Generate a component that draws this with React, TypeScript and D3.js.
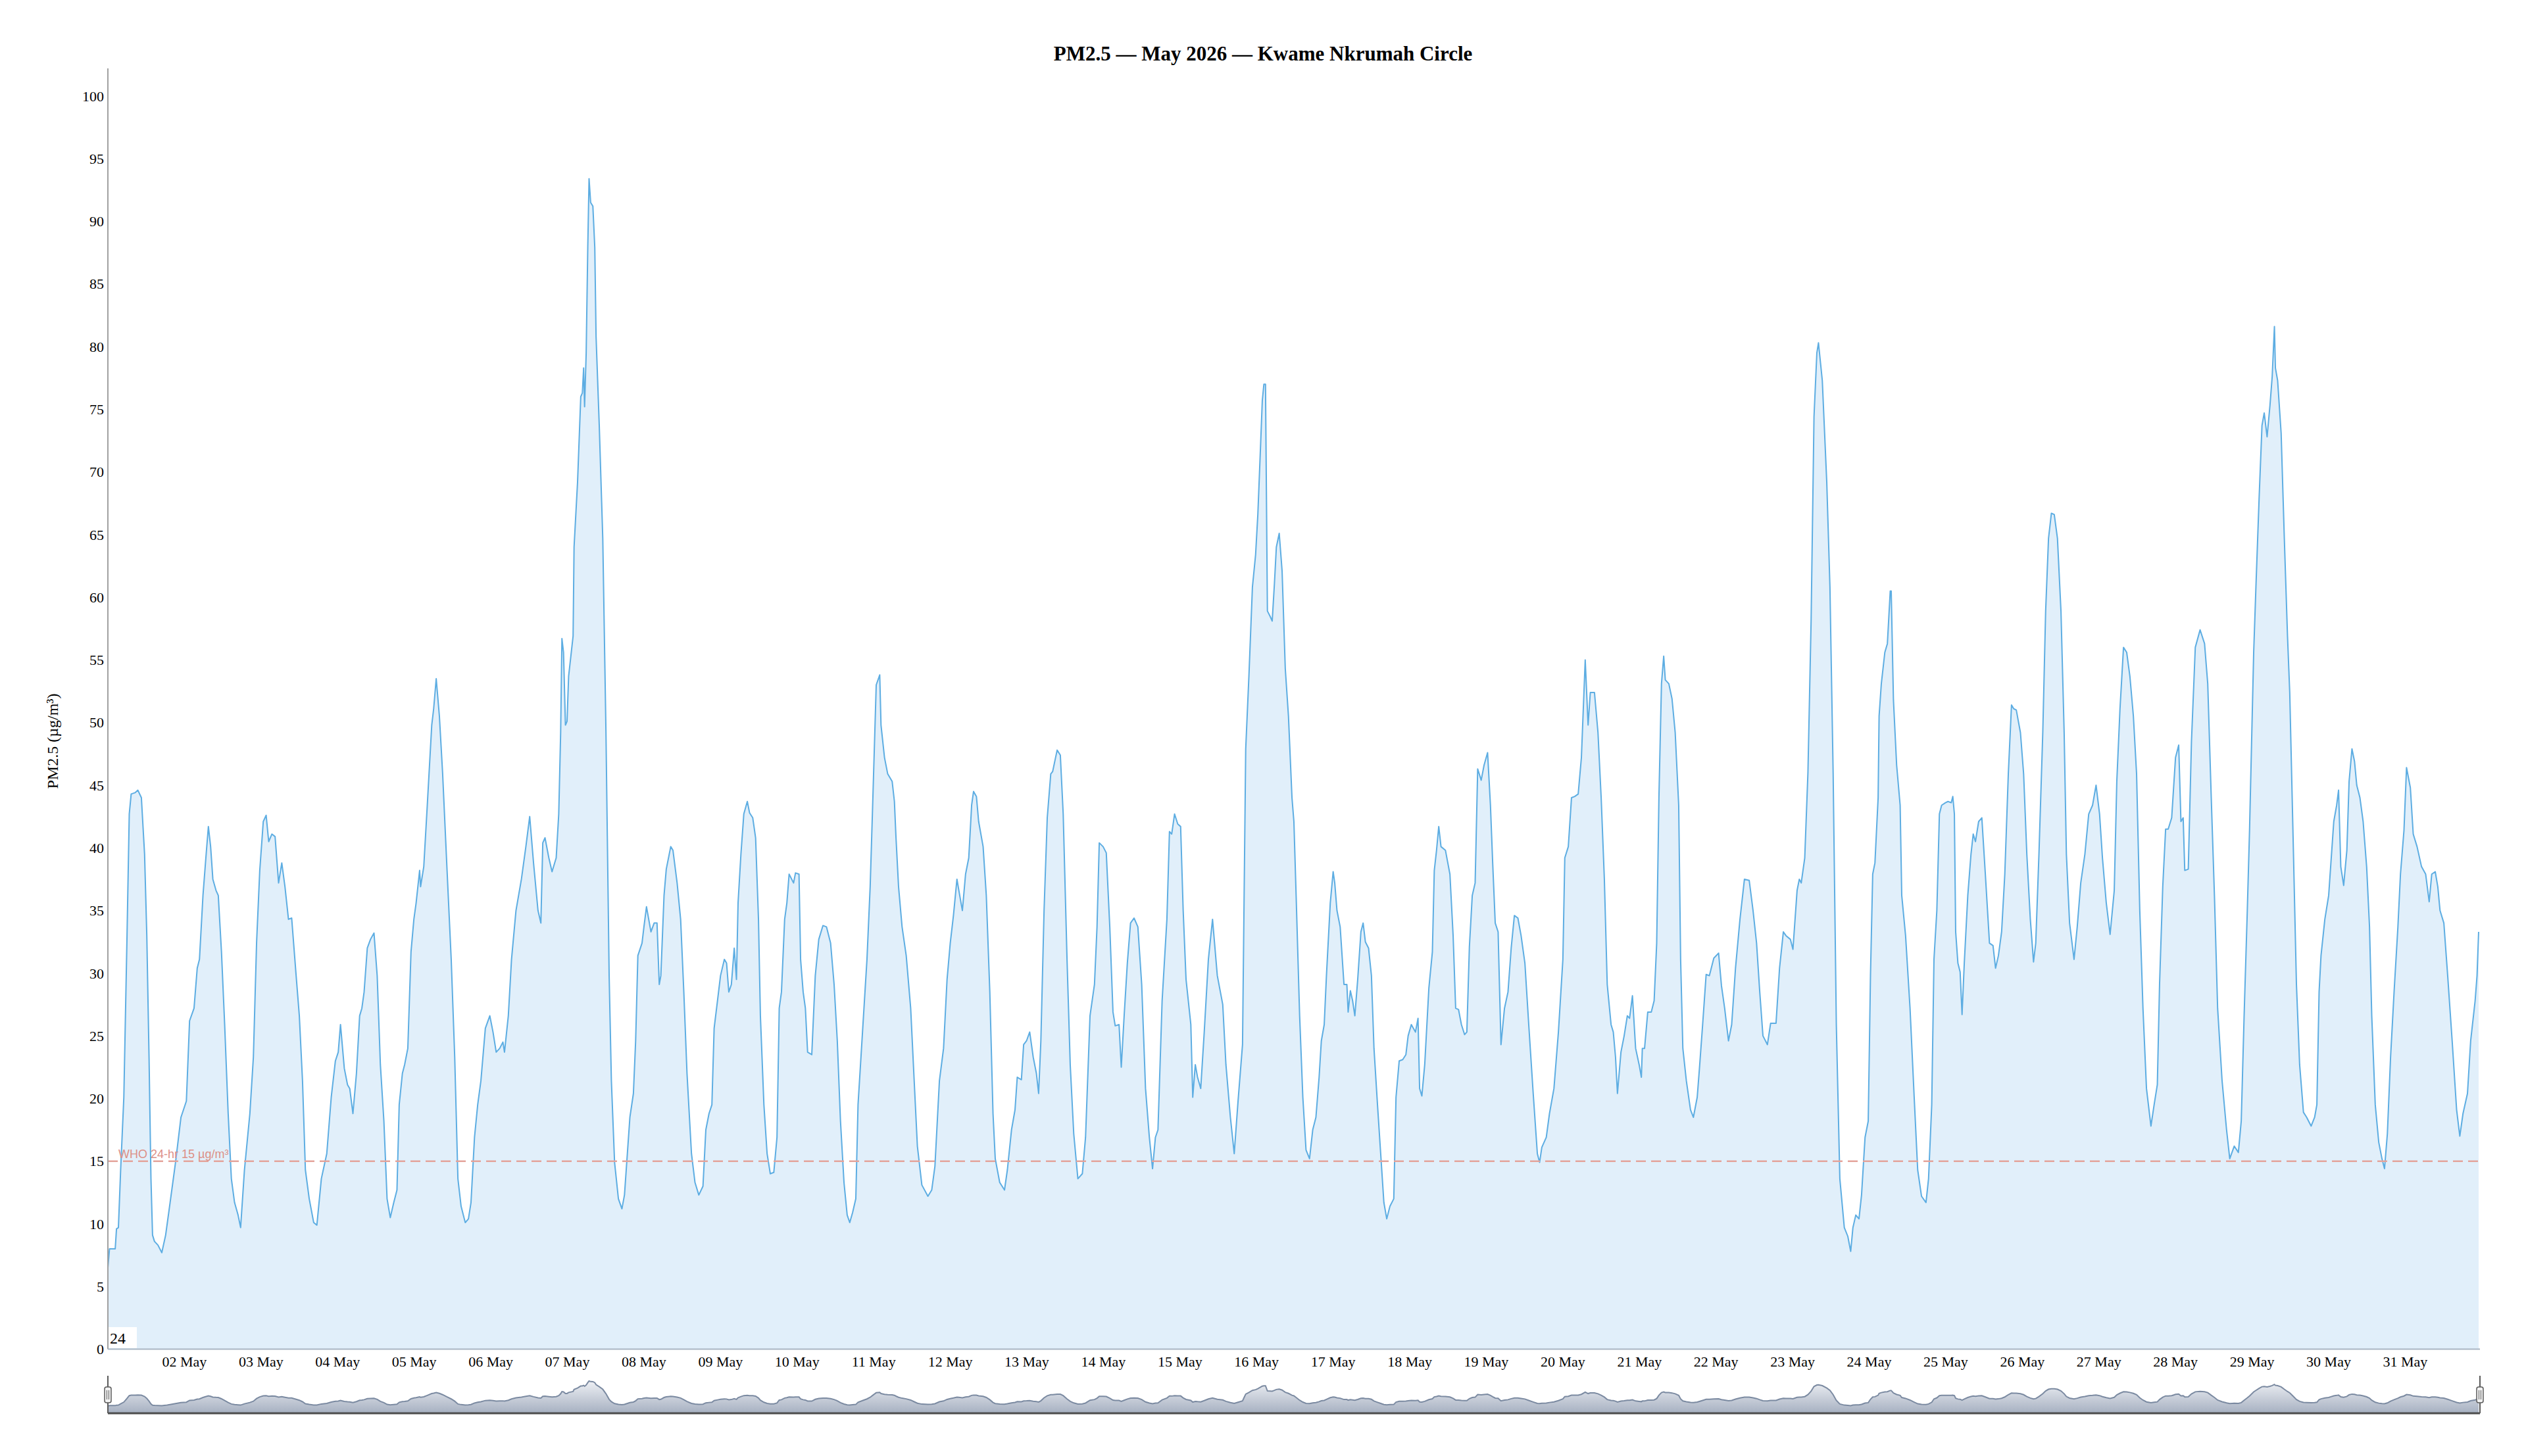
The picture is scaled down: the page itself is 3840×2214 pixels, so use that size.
import React from 'react';
import * as d3 from 'd3';

// ---- Data: hour offsets from 2026-05-01 00:00 and PM2.5 readings (µg/m³) ----
const HOURS: number[] = [
  0, 0.5, 2.3, 2.7, 3.3, 4, 5, 6, 6.7, 7.3, 8.5, 9.4, 10.5, 11.5, 12.2, 12.9, 13.5, 14, 14.6, 15.7, 16.9, 18.1, 19.5, 21.2, 22.9,
  24.6, 25.6, 27, 28, 28.7, 29.8, 30.8, 31.5, 32.2, 32.9, 33.9, 34.6, 35.6, 36.6, 37.7, 38.7, 39.7, 40.8, 41.6, 42.8, 44.5, 45.6, 46.6, 47.6,
  48.7, 49.6, 50.4, 51.4, 52.4, 53.5, 54.5, 55.5, 56.6, 57.6, 59, 60, 61, 61.9, 63.1, 64.5, 65.5, 66.9, 68.6, 70, 71.3,
  72.2, 72.9, 74.1, 75.1, 75.8, 76.8, 77.9, 78.9, 79.6, 80.3, 81.3, 82.3, 83.4, 84.4, 85.4, 86.5, 87.5, 88.5, 89.6, 90.6, 91.3, 92.3, 93, 94, 95, 95.9,
  96.6, 97.7, 98, 99, 100.1, 101.5, 102.1, 102.9, 103.9, 104.9, 106.3, 107.6, 108.7, 109.7, 110.7, 112, 113, 113.8, 114.9, 115.9, 116.9, 118.3, 119.7,
  120.7, 121.7, 122.8, 123.8, 124.3, 125.5, 126.5, 127.9, 129.6, 131, 132.2, 133.4, 134.8, 135.7, 136.3, 137, 138.2, 139.2, 140.5, 141.3, 141.9, 142.3, 142.8, 143.4, 143.9,
  144.4, 145.8, 146.1, 147.2, 148.2, 148.7, 149.1, 149.4, 149.9, 150.4, 150.8, 151.3, 152, 152.6, 153, 154, 155.1, 156.1, 157.1, 157.8, 158.8, 160, 161.1, 161.9, 163.6, 164.7, 165.4, 166.1, 167.4,
  168, 168.8, 170.2, 171.2, 172.1, 172.8, 173.3, 174.3, 175, 176.4, 177.1, 178.4, 179.5, 180.5, 181.5, 182.9, 184, 185.2, 186.5, 187.4, 188.4, 189.3, 190, 191.1,
  192, 193.2, 193.9, 194.6, 195.4, 196.3, 197, 197.5, 198.4, 199.3, 200.4, 201.1, 202.1, 203, 203.9, 204.5, 205.6, 206.6, 207.6, 208.7, 209.7, 210.4, 211.1, 212.1, 212.8, 213.5, 214.9, 215.5,
  216.6, 217.1, 217.9, 218.6, 219.3, 220.6, 221.7, 222.8, 224.1, 225.2, 226.5, 227.6, 228.6, 229.6, 230.7, 231.7, 232.5, 233.4, 234.4, 235.1, 236.5, 237.9, 238.9, 239.6,
  240.8, 241.9, 242.3, 243.4, 244.4, 245.8, 246.5, 247, 247.8, 248.9, 250.2, 251.6, 252.7, 253.7, 255.1, 257, 258.2, 259.2, 260.6, 261.9, 263,
  264, 265, 266.1, 266.7, 267.8, 268.8, 269.8, 270.7, 271.3, 272.2, 272.9, 274.3, 275.3, 276.4, 277.4, 278.1, 279.5, 281, 281.9, 283.2, 284.3, 285, 286.3, 287, 287.9,
  288.9, 290, 291, 291.7, 292.4, 293.4, 294.4, 295.5, 296.1, 297.5, 298.5, 299.4, 300.6, 301.6, 302.7, 304, 305.4, 306.4, 307.8, 309.2, 310, 310.7, 311.9,
  312.9, 314, 315, 315.7, 316.9, 317.6, 318.5, 319.5, 320.5, 321.6, 322.8, 324, 325.2, 326.4, 327.4, 328.3, 329.1, 330.4, 331.9, 332.7, 333.4, 334.3, 335.3,
  336.2, 337, 337.9, 339.4, 340, 340.8, 341.5, 342.5, 343.6, 344.9, 346.2, 347.7, 349.4, 350.4, 351.8, 353, 354.2, 355.6, 356.1, 356.6, 357.6, 358.7, 359.7,
  360.4, 361.3, 361.8, 362.3, 362.8, 363.4, 364.2, 364.9, 365.6, 366.2, 367.1, 368, 369, 370, 371.1, 371.7, 372.4, 373.5, 374.5, 375.5, 376.6, 377.6, 378.6, 379.6, 380.3, 381.2, 381.9, 383.1,
  384, 384.5, 385.2, 386.2, 387.4, 388.3, 388.7, 389.4, 390.1, 390.8, 391.7, 392.7, 393.4, 394.1, 395.1, 396, 396.8, 397.9, 398.9, 399.9, 400.8, 401.8, 403, 403.7, 404.7, 405.8, 406.8, 407.5,
  408.5, 409.8, 410.6, 411.1, 411.8, 412.7, 414, 415.1, 415.7, 416.4, 417.1, 417.8, 419.2, 420.6, 421.6, 422.4, 423.3, 424.2, 425.2, 425.9, 426.7, 427.6, 428.5, 429.3, 430.4, 431.3,
  432.4, 433.3, 434, 434.8, 435.7, 436.6, 437.7, 438.8, 439.8, 440.8, 441.9, 442.9, 444.1, 445.3, 446.7, 448, 448.7, 449.4, 450.8, 451.8, 453.2, 454.6,
  456, 456.6, 457.7, 458.7, 459.7, 460.8, 461.8, 463, 463.9, 464.6, 465.9, 467, 468, 469, 469.9, 471.1, 471.8, 472.5, 473.1, 474.2, 475.2, 476.2, 476.9, 477.8, 478.8, 479.9,
  480.6, 480.9, 481.6, 482.6, 483.7, 484.6, 485.4, 486.1, 486.9, 487.6, 488.1, 489.2, 490.2, 491.2, 492.3, 492.9, 493.6, 494.7, 496, 496.9, 498.1, 498.8, 499.8, 500.9, 501.9, 503.3,
  504.8, 505.7, 506.7, 507.9, 508.9, 510.1, 511.5, 512.9, 514.4, 515.6, 516.7, 517.7, 518.7, 520.1, 521.1, 522.8, 523.9, 525.1, 525.9, 527.3,
  528.1, 529.4, 530.1, 530.7, 531.8, 532.8, 533.8, 534.7, 535.6, 536.1, 537.3, 538.7, 539.7, 540.7, 541.7, 542.8, 544.2, 545.3, 546.2, 546.9, 547.8, 548.8, 549.6, 550.7, 551.7,
  552.4, 553.1, 553.8, 554.8, 555.1, 555.8, 556.9, 557.7, 558.6, 558.9, 559.6, 560.6, 561.7, 562.2, 563.4, 564.8, 566.1, 567.2, 568.4, 569.8, 570.6, 571.6, 572.3, 573.2, 574, 574.7, 575.9,
  576.7, 577.7, 578.2, 578.7, 579.1, 579.8, 580.5, 581.1, 581.8, 582.9, 583.9, 584.6, 585.3, 586.3, 587.3, 588.4, 589.7, 590.8, 591.6, 592.5, 593.5, 594.5, 595.6, 596.6, 597.3, 598.1, 599.4,
  600.4, 601.4, 602.5, 603.5, 604.2, 605.2, 606.4, 607.3, 608.2, 609.1, 610, 611, 612.1, 613.1, 613.8, 614.8, 616.2, 617.2, 618.3, 619.6, 620.8, 622, 623.1,
  624.2, 625.1, 626.3, 627.5, 628.8, 629.6, 630.6, 631.7, 632.7, 633.7, 634.8, 635.8, 636.8, 637.8, 638.9, 640.3, 641.3, 642.3, 643, 644, 644.9, 645.7, 646.8,
  648, 649, 649.7, 650.4, 650.9, 652, 653, 654.2, 655.7, 657.1, 658.1, 659.2, 660.2, 661.2, 662.6, 664, 665, 666.4, 667.7, 668.6, 669.5, 670.5, 671.2,
  672.5, 673.2, 674.2, 675.1, 675.8, 676.7, 677.6, 678.3, 679, 679.3, 680, 681.1, 682.1, 683.1, 683.8, 684.8, 685.9, 686.9, 688.1, 689.1, 690.5, 691.6, 692.3, 693, 693.6, 694.8,
  696, 696.7, 697.6, 698.5, 699.1, 699.8, 700.7, 701.7, 702.4, 703.3, 704.1, 704.8, 705.8, 706.8, 707.9, 708.8, 709.5, 710.6, 711.7, 712.7, 713.5, 714.4, 715.4, 716.5, 717.7, 718.5, 719.6,
  720.4, 721.6, 722.5, 723.7, 725.1, 726.4, 727.5, 728.3, 729.4, 730.2, 730.9, 732.1, 733.3, 734.7, 736.1, 737.1, 738.1, 739.5, 740.5, 741.9, 742.5, 743,
];

const PM25: number[] = [
  6.5, 8, 8, 9.6, 9.7, 14.3, 20.1, 33, 42.7, 44.3, 44.4, 44.6, 44, 39.5, 33, 23.3, 13.6, 9.1, 8.6, 8.3, 7.7, 9.1, 11.7, 14.9, 18.5,
  19.8, 26.2, 27.2, 30.4, 31.1, 36.2, 39.5, 41.7, 40.1, 37.5, 36.6, 36.2, 31.7, 25.9, 18.8, 13.6, 11.7, 10.7, 9.7, 14.3, 18.8, 23.3, 32.4, 38.2,
  42.1, 42.6, 40.5, 41.1, 40.9, 37.2, 38.8, 36.9, 34.3, 34.4, 29.8, 26.6, 21.4, 14.3, 12, 10.1, 9.9, 13.6, 15.6, 20.1, 23,
  23.7, 25.9, 22.4, 21.1, 20.8, 18.8, 22, 26.6, 27.2, 28.5, 32, 32.7, 33.2, 29.8, 22.7, 18.2, 12, 10.5, 11.7, 12.7, 19.5, 22, 22.7, 24, 31.7, 34.3,
  35.6, 38.2, 36.9, 38.5, 43.4, 49.8, 51.1, 53.5, 50.5, 46, 38.2, 31.1, 23.3, 13.6, 11.4, 10.1, 10.4, 11.7, 16.9, 19.5, 21.4, 25.6, 26.6,
  25.3, 23.7, 24, 24.5, 23.7, 26.6, 31.1, 35, 37.5, 40.1, 42.5, 38.8, 35, 34, 40.4, 40.8, 39.2, 38.1, 39.2, 42.7, 49.2, 56.7, 55.6, 49.8, 50.1,
  53.7, 56.9, 64, 69.2, 76, 76.3, 78.3, 75.2, 79.5, 87.9, 93.4, 91.5, 91.2, 87.9, 80.8, 73.7, 64.7, 49.2, 29.8, 21.4, 14.9, 12, 11.2, 12.3, 18.5, 20.4, 24.6, 31.4, 32.4,
  33.7, 35.3, 33.3, 34, 34, 29.1, 29.8, 36.2, 38.3, 40.1, 39.8, 37.2, 34.3, 28.5, 22, 15.6, 13.3, 12.3, 13, 17.5, 18.8, 19.5, 25.6, 27.9,
  29.8, 31.1, 30.8, 28.5, 29.1, 32, 29.5, 35.6, 39.5, 42.7, 43.7, 42.8, 42.4, 40.8, 34.3, 26.6, 19.5, 15.6, 14, 14.1, 16.9, 27.2, 28.5, 34.3, 35.6, 37.9, 37.2, 38,
  37.9, 31.1, 28.5, 27.2, 23.7, 23.5, 29.8, 32.7, 33.8, 33.7, 32.4, 29.1, 24.6, 18.2, 13.3, 10.7, 10.1, 10.9, 12, 19.5, 25.3, 31.1, 36.9, 42.7,
  53, 53.8, 49.8, 47.2, 45.9, 45.3, 43.7, 40.8, 36.9, 33.7, 31.4, 27.2, 21.4, 16.2, 13.1, 12.2, 12.7, 14.6, 21.4, 24, 29.5,
  32.4, 34.6, 37.5, 36.6, 35, 37.9, 39.2, 43.4, 44.5, 44.1, 42.1, 40.1, 36.2, 28.5, 18.8, 15.2, 13.3, 12.7, 14.3, 17.5, 19.1, 21.7, 21.5, 24.3, 24.6,
  25.3, 23.3, 22, 20.4, 24.6, 35, 42.4, 45.9, 46.1, 47.8, 47.4, 42.7, 31.1, 22.7, 17.2, 13.6, 14, 16.9, 26.6, 29.1, 33.7, 40.4, 40.1,
  39.6, 33.7, 26.9, 25.8, 25.9, 22.5, 26.6, 30.8, 34, 34.4, 33.7, 29.1, 20.8, 16.9, 14.4, 16.9, 17.5, 27.8, 34.3, 41.3, 41.1, 42.7, 41.9,
  41.7, 35, 29.5, 25.9, 20.1, 22.7, 21.7, 20.8, 25.3, 31.1, 34.3, 29.8, 27.5, 22.7, 18.5, 15.6, 19.8, 24.3, 36.2, 47.9, 53.7, 60.8, 63.4,
  66.6, 72.4, 75.7, 77, 77, 58.9, 58.5, 58.1, 61.1, 64, 65.1, 62.1, 54.3, 50.5, 44, 42.1, 36.2, 26.6, 20.1, 15.9, 15.2, 17.5, 18.5, 21.7, 24.6, 25.9, 29.8, 35.6,
  38.1, 37.2, 35, 33.7, 29.1, 29.1, 26.9, 28.6, 27.8, 26.6, 29.5, 33.3, 34, 32.5, 32, 29.8, 24, 19.5, 15.6, 11.7, 10.4, 11.4, 12, 20.1, 23, 23.1, 23.5, 25,
  25.9, 25.3, 26.4, 20.8, 20.2, 22.7, 28.8, 31.7, 38.2, 39.8, 41.7, 40.1, 39.8, 37.9, 33, 27.2, 27.1, 25.9, 25.1, 25.3, 32.1, 36.2, 37.2, 46.3, 45.4, 46.6,
  47.6, 43.4, 38.8, 34, 33.3, 24.3, 27.2, 28.5, 32, 34.6, 34.4, 33, 30.8, 25.9, 20.4, 15.6, 14.9, 16.1, 16.9, 18.8, 20.8, 25.3,
  31.1, 39.2, 40.1, 44, 44.1, 44.3, 47.2, 55, 49.8, 52.4, 52.4, 49.2, 44, 37.5, 29.1, 25.9, 25.3, 23.3, 20.4, 23.7, 25, 26.6, 26.4, 28.2, 24, 22.7,
  21.7, 24, 24, 26.9, 26.9, 27.8, 32.4, 44, 53.1, 55.3, 53.4, 53.1, 51.9, 49.2, 43.4, 31.1, 24, 21.4, 19.1, 18.5, 20.1, 22.4, 25.9, 29.9, 29.8, 31.2,
  31.6, 29, 27.2, 24.6, 25.9, 30.4, 34.3, 37.5, 37.4, 35, 32.4, 28.5, 25, 24.3, 26, 26, 30.4, 33.3, 33, 32.7,
  31.9, 36.6, 37.5, 37.2, 39.2, 46, 58.2, 74.4, 79.5, 80.3, 77.3, 69.2, 60.8, 46, 25.9, 13.6, 9.7, 9, 7.8, 9.7, 10.7, 10.4, 12.3, 16.9, 18.2,
  29.8, 37.9, 38.8, 44, 50.5, 53.1, 55.6, 56.3, 60.5, 60.5, 51.8, 46.6, 43.4, 36.2, 33, 27.2, 20.1, 14.3, 12.2, 11.7, 13.6, 19.5, 31.1, 35, 42.7, 43.4, 43.6,
  43.7, 43.6, 44.1, 42.7, 33.3, 30.8, 30.1, 26.7, 30.8, 36.2, 39.5, 41.1, 40.5, 42.1, 42.4, 37.9, 32.4, 32.2, 30.4, 31.4, 33.3, 37.9, 45.9, 51.4, 51.1, 51, 49.2,
  45.9, 39.5, 34.3, 30.9, 32.4, 39.5, 49.2, 58.9, 64.7, 66.7, 66.6, 64.7, 58.9, 49.2, 39.5, 34, 31.1, 33.7, 37.2, 39.5, 42.7, 43.4, 45,
  42.7, 39.2, 35.6, 33.1, 36.6, 45.3, 51.1, 56, 55.6, 53.7, 50.5, 45.9, 35, 27.2, 20.8, 17.8, 19.5, 21.1, 29.1, 36.9, 41.5, 41.5, 42.4,
  47.2, 48.2, 42.1, 42.4, 38.2, 38.3, 48.5, 56, 57.4, 56.3, 53.1, 44, 36.2, 27.2, 21.4, 17.5, 15.2, 16.2, 15.7, 18.2, 26.6, 35, 41.4,
  55.6, 60.8, 67.9, 73.7, 74.7, 72.8, 75.3, 77.6, 81.6, 78.3, 77.3, 73.1, 64.7, 56.9, 52.4, 41.4, 29.1, 22.7, 18.9, 18.5, 17.8, 18.5, 19.5, 28.5, 31.4, 34.3,
  36.2, 38.8, 42.1, 43.4, 44.6, 38.5, 37, 39.8, 45.3, 47.9, 46.9, 45, 44, 42.1, 38.5, 33.7, 26.6, 19.5, 16.5, 15.2, 14.4, 17.2, 23.3, 28.5, 33.7, 37.9, 41.4,
  46.4, 44.8, 41.1, 40.1, 38.5, 37.9, 35.7, 37.9, 38.1, 36.9, 35, 34, 29.8, 24.6, 19.1, 17, 18.8, 20.4, 24.6, 27.8, 29.8, 33.3,
];

const Y_TICKS: number[] = d3.range(0, 101, 5);
const TITLE = 'PM2.5 — May 2026 — Kwame Nkrumah Circle';
const Y_TITLE = 'PM2.5 (µg/m³)';
const WHO_LIMIT = 15;
const WHO_LABEL = 'WHO 24-hr 15 µg/m³';
const RANGE_LABEL = '24';
const START = Date.UTC(2026, 4, 1);
const HOUR_MS = 3600 * 1000;
const LAST_HOUR = 743;

const SERIF = '"Liberation Serif", "Times New Roman", Times, serif';
const SANS = '"Liberation Sans", Arial, Helvetica, sans-serif';

type Pt = { t: Date; v: number };

export default function App() {
  const W = 3840;
  const H = 2214;
  const L = 164;
  const R = 3768;
  const T = 104;
  const B = 2051.5;

  const data: Pt[] = HOURS.map((h, i) => ({ t: new Date(START + h * HOUR_MS), v: PM25[i] }));

  const x = d3
    .scaleUtc()
    .domain([new Date(START), new Date(START + LAST_HOUR * HOUR_MS)])
    .range([L, R]);
  const y = d3.scaleLinear().domain([0, 102.2]).range([B, T]);

  const ext = d3.extent(PM25) as [number, number];
  const navTop = 2100;
  const navBase = 2138;
  const navBottom = 2149;
  const yNav = d3.scaleLinear().domain(ext).range([navBase, navTop]);

  const line = d3
    .line<Pt>()
    .x((d) => x(d.t))
    .y((d) => y(d.v));
  const area = d3
    .area<Pt>()
    .x((d) => x(d.t))
    .y0(y(0))
    .y1((d) => y(d.v));

  const navLine = d3
    .line<Pt>()
    .x((d) => x(d.t))
    .y((d) => yNav(d.v));
  const navArea = d3
    .area<Pt>()
    .x((d) => x(d.t))
    .y0(navBottom)
    .y1((d) => yNav(d.v));

  const dayTicks = d3.utcDay.range(new Date(Date.UTC(2026, 4, 2)), new Date(Date.UTC(2026, 5, 1)));
  const fmt = d3.utcFormat('%d %b');

  const handle = (hx: number, key: string) => (
    <g key={key}>
      <line x1={hx} x2={hx} y1={2092} y2={navBottom} stroke="#5a5a5a" strokeWidth={2} />
      <rect x={hx - 5} y={2109} width={10} height={24} rx={3} fill="#f2f2f2" stroke="#5a5a5a" strokeWidth={1.5} />
      <line x1={hx - 1.5} x2={hx - 1.5} y1={2114} y2={2128} stroke="#5a5a5a" strokeWidth={1} />
      <line x1={hx + 1.5} x2={hx + 1.5} y1={2114} y2={2128} stroke="#5a5a5a" strokeWidth={1} />
    </g>
  );

  return (
    <svg
      width={W}
      height={H}
      viewBox={`0 0 ${W} ${H}`}
      style={{ position: 'absolute', left: 0, top: 0, display: 'block', background: '#ffffff' }}
      fontFamily={SERIF}
    >
      <defs>
        <linearGradient id="navGrad" x1="0" y1={navTop} x2="0" y2={navBottom} gradientUnits="userSpaceOnUse">
          <stop offset="0" stopColor="#eef0f4" />
          <stop offset="1" stopColor="#a6b0c1" />
        </linearGradient>
      </defs>

      {/* Title */}
      <text x={W / 2} y={92} textAnchor="middle" fontSize={31} fontWeight="bold" fill="#000">
        {TITLE}
      </text>

      {/* Y axis title */}
      <text
        transform={`translate(80,1127) rotate(-90)`}
        textAnchor="middle"
        dominantBaseline="central"
        fontSize={24}
        fill="#000"
      >
        {Y_TITLE}
      </text>

      {/* Area + line */}
      <path d={area(data) ?? ''} fill="#e1effa" stroke="none" />
      <path d={line(data) ?? ''} fill="none" stroke="#5dade2" strokeWidth={2} strokeLinejoin="round" />

      {/* WHO guideline */}
      <line
        x1={L}
        x2={R}
        y1={y(WHO_LIMIT)}
        y2={y(WHO_LIMIT)}
        stroke="#e4a49b"
        strokeWidth={2.5}
        strokeDasharray="15 8"
      />
      <text x={180} y={y(WHO_LIMIT) - 5} fontFamily={SANS} fontSize={18} fill="#dc9087">
        {WHO_LABEL}
      </text>

      {/* Y axis */}
      <line x1={L} x2={L} y1={T} y2={B} stroke="#a0a0a0" strokeWidth={2} />
      {Y_TICKS.map((t) => (
        <text key={t} x={158} y={y(t)} dy="0.35em" textAnchor="end" fontSize={22} fill="#000">
          {t}
        </text>
      ))}

      {/* X axis */}
      <line x1={L} x2={R + 2} y1={B} y2={B} stroke="#a9b6c3" strokeWidth={2} />
      {dayTicks.map((d) => (
        <text key={d.toISOString()} x={x(d)} y={2078} textAnchor="middle" fontSize={22} fill="#000">
          {fmt(d)}
        </text>
      ))}

      {/* range label box */}
      <rect x={L + 1} y={2018} width={43} height={32} fill="#ffffff" />
      <text x={167} y={2043} fontSize={24} fill="#000">
        {RANGE_LABEL}
      </text>

      {/* Navigator */}
      <path d={navArea(data) ?? ''} fill="url(#navGrad)" stroke="none" />
      <path d={navLine(data) ?? ''} fill="none" stroke="#7b8aa1" strokeWidth={2} />
      <line x1={L} x2={R + 2} y1={navBottom} y2={navBottom} stroke="#4d4d4d" strokeWidth={3} />
      {handle(L, 'hl')}
      {handle(R + 2, 'hr')}
    </svg>
  );
}
